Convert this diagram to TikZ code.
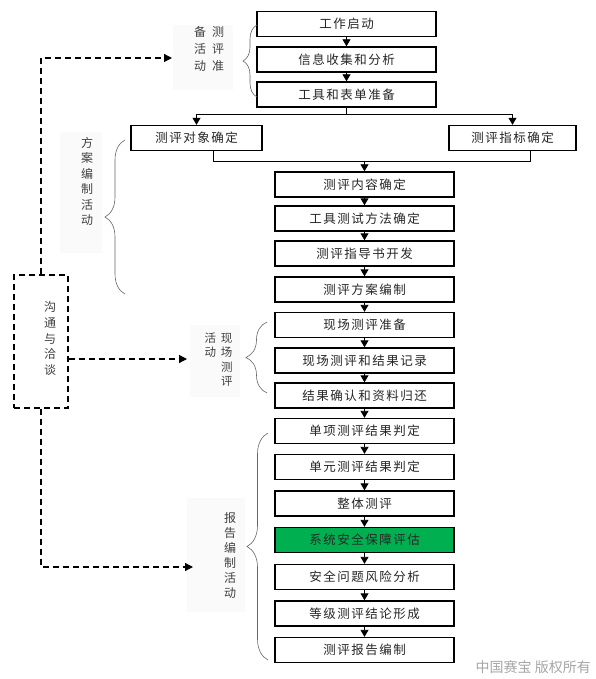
\documentclass[tikz,border=0pt]{standalone}
\usepackage{fontspec}
\setmainfont{Liberation Serif}
\newfontfamily\cjk[LetterSpace=12]{Noto Sans CJK SC}
\newfontfamily\cjkplain{Noto Sans CJK SC}
\usetikzlibrary{arrows.meta,decorations.pathreplacing}
\begin{document}
\begin{tikzpicture}[x=1pt,y=-1pt,
  box/.style={draw=black, line width=1.4pt, fill=white, minimum width=179pt, minimum height=25pt, inner sep=0pt, font=\cjk\fontsize{12.5}{14}\selectfont, text=black!85},
  arr/.style={line width=0.9pt, -{Triangle[length=7pt,width=8pt]}},
  ln/.style={line width=0.9pt},
  dsh/.style={line width=1.2pt, dash pattern=on 6pt off 4pt, -{Triangle[length=8pt,width=8pt]}},
  brc/.style={decorate, decoration={brace, amplitude=#1}, draw=black!60, line width=0.6pt},
  lbl/.style={font=\cjkplain\fontsize{12}{15.5}\selectfont, text=black!75, align=center, inner sep=0pt},
  bgfill/.style={fill=black!2, draw=none}
]
\useasboundingbox (0,0) rectangle (595,679);

% faint label backgrounds
\fill[bgfill] (173,25) rectangle (233,90);
\fill[bgfill] (60,132) rectangle (102,253);
\fill[bgfill] (190,325) rectangle (240,397);
\fill[bgfill] (187,498) rectangle (245,612);

% upper boxes
\node[box] (b1) at (346.5,24) {工作启动};
\node[box] (b2) at (346.5,59.5) {信息收集和分析};
\node[box] (b3) at (346.5,94.5) {工具和表单准备};
\node[box, minimum width=131pt] (obj) at (196.5,138) {测评对象确定};
\node[box, minimum width=127pt] (ind) at (512.5,138) {测评指标确定};

% lower boxes
\node[box] (c1) at (364.5,184.5) {测评内容确定};
\node[box] (c2) at (364.5,218.5) {工具测试方法确定};
\node[box] (c3) at (364.5,253.5) {测评指导书开发};
\node[box] (c4) at (364.5,289.5) {测评方案编制};
\node[box] (c5) at (364.5,325) {现场测评准备};
\node[box] (c6) at (364.5,360.5) {现场测评和结果记录};
\node[box] (c7) at (364.5,395.5) {结果确认和资料归还};
\node[box] (c8) at (364.5,431) {单项测评结果判定};
\node[box] (c9) at (364.5,467) {单元测评结果判定};
\node[box] (c10) at (364.5,503.5) {整体测评};
\node[box, fill={rgb,255:red,0;green,176;blue,80}] (c11) at (364.5,540) {系统安全保障评估};
\node[box] (c12) at (364.5,577) {安全问题风险分析};
\node[box] (c13) at (364.5,613.5) {等级测评结论形成};
\node[box] (c14) at (364.5,650) {测评报告编制};

% connectors
\draw[arr] (b1.south) -- (b2.north);
\draw[arr] (b2.south) -- (b3.north);
\draw[arr] (b3.south) -- ++(0,7) -| (obj.north);
\draw[arr] (b3.south) -- ++(0,7) -| (ind.north);
\coordinate (merge) at (364.5,161);
\draw[ln] ([xshift=16.5pt]obj.south) |- (merge);
\draw[ln] ([xshift=17.5pt]ind.south) |- (merge);
\draw[arr] (merge) -- (c1.north);
\foreach \i [evaluate=\i as \j using int(\i+1)] in {1,...,13}
  \draw[arr] (c\i.south) -- (c\j.north);

% braces
\draw[brc=14pt] (257,97) -- (257,25);
\draw[brc=20pt] (125,294) -- (125,140);
\draw[brc=21pt] (267,393) -- (267,322);
\draw[brc=21pt] (268,660) -- (268,433);

% labels
\node[lbl, font=\cjkplain\fontsize{12}{17}\selectfont] (prep) at (209,50)
  {\begin{tabular}{@{}c@{\hspace{6pt}}c@{}}备&测\\活&评\\动&准\end{tabular}};
\node[lbl] (plan) at (87,181.5) {方\\案\\编\\制\\活\\动};
\node[lbl, font=\cjkplain\fontsize{11.5}{14.5}\selectfont] (site) at (218.5,361)
  {\begin{tabular}{@{}c@{\hspace{5pt}}c@{}}活&现\\动&场\\&测\\&评\end{tabular}};
\node[lbl, font=\cjkplain\fontsize{12}{15}\selectfont] (rep) at (230,555.5) {报\\告\\编\\制\\活\\动};

% communication box
\node[draw, line width=1.2pt, dash pattern=on 6pt off 4pt, minimum width=54pt, minimum height=133pt] (comm) at (41,341.5) {};
\node[lbl, font=\cjkplain\fontsize{12}{15.75}\selectfont] (commtxt) at (50,338.5) {沟\\通\\与\\洽\\谈};

\coordinate (prepin) at (172,58);
\coordinate (sitein) at (187,359);
\coordinate (repin) at (193,567);
\draw[dsh] (comm.north) |- (prepin);
\draw[dsh] (comm.east |- sitein) -- (sitein);
\draw[dsh] (comm.south) |- (repin);

% watermark
\node[font=\cjkplain\fontsize{14}{16}\selectfont, text=black!35, anchor=east, inner sep=0pt] (wm) at (591,667) {中国赛宝 版权所有};
\end{tikzpicture}
\end{document}
